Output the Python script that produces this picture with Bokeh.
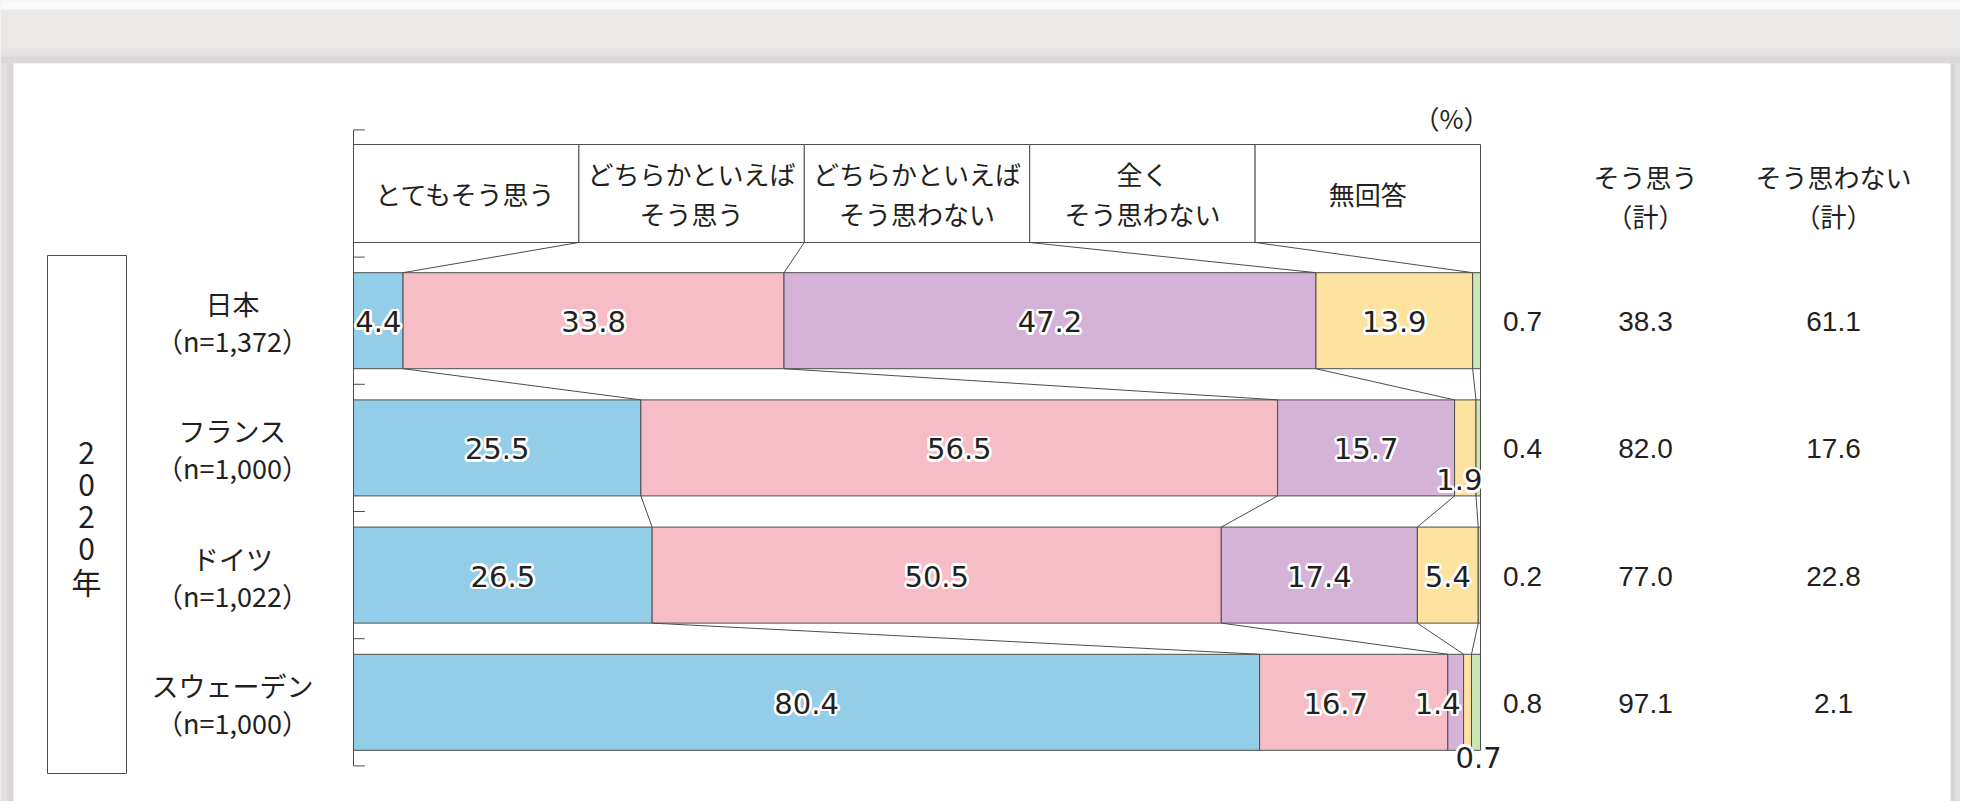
from bokeh.plotting import figure
from bokeh.models import Range1d, ColumnDataSource
from bokeh.core.properties import value
from bokeh.embed import file_html
from bokeh.resources import INLINE
import math

# ---------------- data ----------------
categories = ["日本", "フランス", "ドイツ", "スウェーデン"]
sample_sizes = ["（n=1,372）", "（n=1,000）", "（n=1,022）", "（n=1,000）"]
response_labels = [["とてもそう思う"], ["どちらかといえば", "そう思う"],
                   ["どちらかといえば", "そう思わない"], ["全く", "そう思わない"], ["無回答"]]
very_agree = [4.4, 25.5, 26.5, 80.4]
somewhat_agree = [33.8, 56.5, 50.5, 16.7]
somewhat_disagree = [47.2, 15.7, 17.4, 1.4]
strongly_disagree = [13.9, 1.9, 5.4, 0.7]
no_answer = [0.7, 0.4, 0.2, 0.8]
agree_total = [38.3, 82.0, 77.0, 97.1]
disagree_total = [61.1, 17.6, 22.8, 2.1]
total_headers = [["そう思う", "（計）"], ["そう思わない", "（計）"]]
year_label = "2020年"
unit_label = "（%）"

# ---------------- style ----------------
colors = ["#93cde8", "#f6bdc6", "#d5b3d9", "#fde2a0", "#c8e6b6"]
LINE = "#4d4d4d"
TEXT = "#231f20"
JP = value("Noto Sans CJK JP")
NUM_IN = value("DejaVu Sans")
NUM_OUT = value("Liberation Sans")

SX = 11.27   # px per percent
SY = 127.2   # px per row
def X(ix):
    return (ix - 353) / SX
def Y(iy):
    return (iy - 193) / SY

W, H = 1960, 801
p = figure(width=W, height=H, x_range=Range1d(X(0), X(W)),
           y_range=Range1d(Y(H), Y(0)), output_backend="svg",
           toolbar_location=None, min_border=0, x_axis_type=None, y_axis_type=None)
p.grid.visible = False
p.outline_line_color = None
p.background_fill_color = "#ebe8e8"
p.border_fill_color = "#ebe8e8"

# page top, card + shadow
p.quad(left=[X(0)], right=[X(W)], top=[Y(0)], bottom=[Y(9)], fill_color="#fbfafa", line_color=None)
p.quad(left=[X(0)], right=[X(W)], top=[Y(48)], bottom=[Y(63)], fill_color="#e4e1e1", line_color=None)
p.quad(left=[X(0)], right=[X(W)], top=[Y(56)], bottom=[Y(63)], fill_color="#dad8d8", line_color=None)
p.quad(left=[X(0)], right=[X(13)], top=[Y(63)], bottom=[Y(H)], fill_color="#e2e0e0", line_color=None)
p.quad(left=[X(7)], right=[X(13)], top=[Y(63)], bottom=[Y(H)], fill_color="#d8d6d6", line_color=None)
p.quad(left=[X(1950)], right=[X(W)], top=[Y(63)], bottom=[Y(H)], fill_color="#e2dfdf", line_color=None)
p.quad(left=[X(1950)], right=[X(1954)], top=[Y(63)], bottom=[Y(H)], fill_color="#d6d4d4", line_color=None)
p.quad(left=[X(13)], right=[X(1950)], top=[Y(63)], bottom=[Y(H)], fill_color="white", line_color=None)

series = [very_agree, somewhat_agree, somewhat_disagree, strongly_disagree, no_answer]
n_cols = len(series)
rows = list(range(1, len(categories) + 1))
BAR_H = 0.755
HEAD_H = 0.77

# axis line and ticks
p.segment(x0=[0], y0=[-0.5], x1=[0], y1=[len(categories) + 0.5], line_color=LINE, line_width=1)
tick_y = [k - 0.5 for k in range(len(categories) + 2)]
p.segment(x0=[0] * len(tick_y), y0=tick_y, x1=[1.0] * len(tick_y), y1=tick_y, line_color=LINE, line_width=1)

# header boxes
col_w = 100 / n_cols
p.quad(left=[col_w * j for j in range(n_cols)], right=[col_w * (j + 1) for j in range(n_cols)],
       top=[-HEAD_H / 2] * n_cols, bottom=[HEAD_H / 2] * n_cols,
       fill_color="white", line_color=LINE, line_width=1)

# cumulative boundaries
cums = []
for i in range(len(categories)):
    c = [0.0]
    for s in series:
        c.append(c[-1] + s[i])
    c[-1] = 100.0
    cums.append(c)

# bars
for j, s in enumerate(series):
    left = [cums[i][j] for i in range(len(categories))]
    right = [cums[i][j + 1] for i in range(len(categories))]
    p.hbar(y=rows, left=left, right=right, height=BAR_H, fill_color=colors[j],
           line_color=LINE, line_width=1)

# connectors
head_b = [col_w * j for j in range(n_cols + 1)]
prev_b, prev_y, prev_half = head_b, 0, HEAD_H / 2
x0s, y0s, x1s, y1s = [], [], [], []
for i in range(len(categories)):
    for a, b in zip(prev_b, cums[i]):
        x0s.append(a); y0s.append(prev_y + prev_half)
        x1s.append(b); y1s.append(rows[i] - BAR_H / 2)
    prev_b, prev_y, prev_half = cums[i], rows[i], BAR_H / 2
p.segment(x0=x0s, y0=y0s, x1=x1s, y1=y1s, line_color=LINE, line_width=1)

# header texts
hx, hy, ht, hyo = [], [], [], []
for j, lines in enumerate(response_labels):
    cx = col_w * (j + 0.5)
    if len(lines) == 1:
        hx.append(cx); hy.append(0); ht.append(lines[0]); hyo.append(0)
    else:
        hx += [cx, cx]; hy += [0, 0]; ht += lines; hyo += [-20, 20]
p.text(x=hx, y=hy, text=ht, y_offset=hyo, text_align="center", text_baseline="middle",
       text_font=JP, text_font_size="26px", text_color=TEXT)

# in-bar labels
special = {(1, 3): (-6, 31), (3, 1): (-18, 0), (3, 2): (-18, 0), (3, 3): (11, 54)}
lx, ly, lt, lxo, lyo = [], [], [], [], []
for i in range(len(categories)):
    for j in range(n_cols - 1):
        v = series[j][i]
        lx.append((cums[i][j] + cums[i][j + 1]) / 2)
        ly.append(rows[i])
        lt.append(f"{v:.1f}")
        dx, dy = special.get((i, j), (0, 0))
        lxo.append(dx); lyo.append(dy + 1)
src = dict(x=lx, y=ly, t=lt)
halo = [(2.5 * math.cos(2 * math.pi * k / 16), 2.5 * math.sin(2 * math.pi * k / 16)) for k in range(16)]
for k, (hdx, hdy) in enumerate(halo):
    src[f"xo{k}"] = [o + hdx for o in lxo]
    src[f"yo{k}"] = [o + hdy for o in lyo]
src["xo"] = lxo
src["yo"] = lyo
lsrc = ColumnDataSource(src)
for k in range(len(halo)):
    p.text(x="x", y="y", text="t", x_offset=f"xo{k}", y_offset=f"yo{k}", source=lsrc,
           text_align="center", text_baseline="middle", text_font=NUM_IN,
           text_font_size="29px", text_color="white")
p.text(x="x", y="y", text="t", x_offset="xo", y_offset="yo", source=lsrc,
       text_align="center", text_baseline="middle", text_font=NUM_IN,
       text_font_size="29px", text_color=TEXT)

# right-hand columns
col_x = [X(1522), X(1645), X(1833)]
for cx, vals in zip(col_x, [no_answer, agree_total, disagree_total]):
    p.text(x=[cx] * len(vals), y=rows, text=[f"{v:.1f}" for v in vals], y_offset=1,
           text_align="center", text_baseline="middle", text_font=NUM_OUT,
           text_font_size="28px", text_color=TEXT)
for cx, lines in zip(col_x[1:], total_headers):
    p.text(x=[cx, cx], y=[0, 0], text=lines, y_offset=[-17, 22], text_align="center",
           text_baseline="middle", text_font=JP, text_font_size="26px", text_color=TEXT)

# unit
p.text(x=[100.8], y=[Y(117)], text=[unit_label], text_align="right", text_baseline="middle",
       text_font=JP, text_font_size="26px", text_color=TEXT)

# category labels
cat_x = X(232)
p.text(x=[cat_x] * len(categories), y=rows, text=categories, y_offset=-17,
       text_align="center", text_baseline="middle", text_font=JP, text_font_size="27px",
       text_color=TEXT)
p.text(x=[cat_x] * len(categories), y=rows, text=sample_sizes, y_offset=20,
       text_align="center", text_baseline="middle", text_font=JP, text_font_size="27px",
       text_color=TEXT)

# year box (vertical text)
p.quad(left=[X(47)], right=[X(126)], top=[Y(255)], bottom=[Y(773)], fill_color="white",
       line_color=LINE, line_width=1)
chars = list(year_label)
p.text(x=[X(86)] * len(chars), y=[Y(452 + 32 * k) for k in range(len(chars))], text=chars,
       text_align="center", text_baseline="middle", text_font=JP, text_font_size="30px",
       text_color=TEXT)

open("out.html", "w").write(file_html(p, INLINE))
